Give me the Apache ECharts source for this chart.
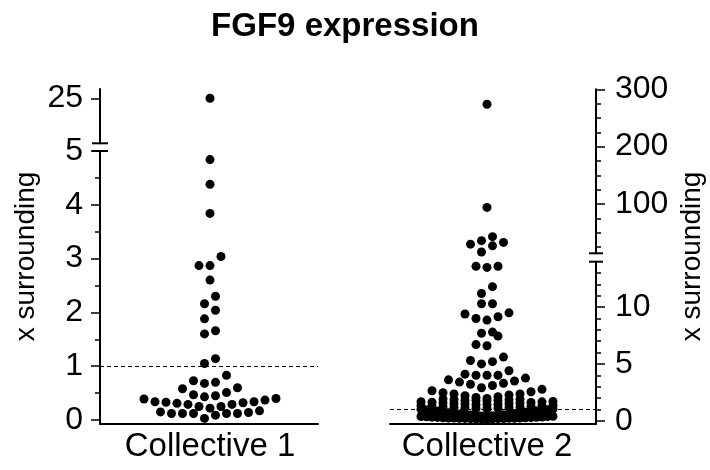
<!DOCTYPE html>
<html><head><meta charset="utf-8">
<script src="https://cdn.jsdelivr.net/npm/echarts@6/dist/echarts.min.js"></script>
<style>html,body{margin:0;padding:0;background:#fff}#c{width:710px;height:470px}</style>
</head><body><div id="c"></div>
<script>
// ---------- data ----------
const chartTitle = 'FGF9 expression';
const categories = ['Collective 1', 'Collective 2'];
const axisTitle = 'x surrounding';
const referenceLevel = 1;

const collective1 = [
  25, 4.84, 4.38, 3.84, 3.04, 2.87, 2.87, 2.60, 2.30, 2.16, 2.04, 1.88, 1.66, 1.60,
  1.14, 1.05, 0.83, 0.73, 0.70, 0.68, 0.60, 0.58, 0.51, 0.47, 0.45, 0.43,
  0.40, 0.39, 0.37, 0.34, 0.34, 0.33, 0.32, 0.31, 0.29, 0.29, 0.25, 0.25, 0.22,
  0.17, 0.15, 0.14, 0.12, 0.12, 0.12, 0.12, 0.12, 0.09, 0.03
];
const collective2 = [
  274, 94, 43, 36, 33, 30, 27, 16.2,
  13.6, 13.5, 13.6, 11.8, 11.2, 10.3, 10.3,
  9.5, 9.15, 8.86, 9.0, 9.4,
  7.8, 7.45, 7.7, 6.6, 6.7,
  5.6, 5.2, 5.0, 5.3,
  4.4, 4.0, 4.0, 4.0, 4.1,
  3.75, 3.5, 3.3, 3.1, 2.9, 3.2, 3.4, 3.6,
  2.76, 2.64, 2.55, 2.46, 2.35, 2.35, 2.27, 2.20, 2.12, 2.05, 1.96,
  1.91, 1.89, 1.86, 1.84, 1.81, 1.78, 1.77, 1.73, 1.70, 1.68, 1.66, 1.62, 1.60, 1.57, 1.55, 1.52,
  1.49, 1.47, 1.44, 1.41, 1.40, 1.36, 1.33, 1.31, 1.29, 1.25, 1.23, 1.21, 1.18, 1.15, 1.12, 1.10, 1.07, 1.05,
  1.02, 1.00, 0.97, 0.94, 0.91, 0.88, 0.86, 0.83, 0.79, 0.76, 0.74, 0.71, 0.68, 0.66, 0.63, 0.60, 0.58,
  0.56, 0.53, 0.51, 0.49, 0.47, 0.44, 0.42, 0.41, 0.39, 0.37, 0.36, 0.34, 0.33, 0.31, 0.30, 0.29,
  0.27, 0.26, 0.25, 0.24, 0.24, 0.23, 0.22, 0.21, 0.21, 0.20, 0.19, 0.18, 0.18, 0.17, 0.16, 0.16, 0.15
];

// axis ticks / labels
const leftLowerTicks = [0, 1, 2, 3, 4, 5];
const leftLowerMinor = [0.5, 1.5, 2.5, 3.5, 4.5];
const leftUpperTicks = [25];
const rightLowerTicks = [0, 5, 10];
const rightLowerMinor = [1, 2, 3, 4, 6, 7, 8, 9, 11, 12, 13];
const rightUpperTicks = [100, 200, 300];
const rightUpperMinor = [25, 50, 75, 125, 150, 175, 225, 250, 275];
const leftBreak = 5;
const rightBreak = 14;

// ---------- chart ----------
const FONT = 'Liberation Sans';
const lab = { color: '#000', fontFamily: FONT, fontSize: 32 };
const catLab = { color: '#000', fontFamily: FONT, fontSize: 33 };
const chart = echarts.init(document.getElementById('c'), null, { renderer: 'canvas' });

function majorY(gridIndex, position, min, max, ticks, margin) {
  return {
    type: 'value', gridIndex, position, min, max,
    axisLine: { show: true, onZero: false, lineStyle: { color: '#000', width: 2 } },
    axisTick: { show: true, inside: false, length: 9, customValues: ticks, lineStyle: { color: '#000', width: 1.5 } },
    axisLabel: Object.assign({ show: true, customValues: ticks, margin }, lab),
    splitLine: { show: false }
  };
}
function minorY(gridIndex, position, min, max, ticks) {
  return {
    type: 'value', gridIndex, position, min, max,
    axisLine: { show: false, onZero: false },
    axisTick: { show: true, inside: false, length: 5, customValues: ticks, lineStyle: { color: '#000', width: 1.5 } },
    axisLabel: { show: false },
    splitLine: { show: false }
  };
}
function xAx(gridIndex, min, max, name, show) {
  return {
    type: 'value', gridIndex, min, max, position: 'bottom',
    axisLine: { show: show, onZero: false, lineStyle: { color: '#000', width: 2 } },
    axisTick: { show: false },
    axisLabel: show ? Object.assign({ show: true, customValues: [0], formatter: () => name, margin: 6 }, catLab) : { show: false },
    splitLine: { show: false }
  };
}

const grids = [
  { left: 100, top: 151, width: 218, height: 273 },     // left lower
  { left: 100, top: 89, width: 218, height: 54.3 },     // left upper
  { left: 390, top: 261.7, width: 206, height: 162.3 }, // right lower
  { left: 390, top: 89.3, width: 206, height: 164 }     // right upper
].map(g => Object.assign({ containLabel: false, outerBoundsMode: 'none' }, g));

const yAxes = [
  majorY(0, 'left', -0.0743, 5, leftLowerTicks, 17),
  minorY(0, 'left', -0.0743, 5, leftLowerMinor),
  majorY(1, 'left', 5, 29.13, leftUpperTicks, 17),
  majorY(2, 'right', -0.29, 14, rightLowerTicks, 19),
  minorY(2, 'right', -0.29, 14, rightLowerMinor),
  majorY(3, 'right', 14, 300, rightUpperTicks, 19),
  minorY(3, 'right', 14, 300, rightUpperMinor)
];
const xAxes = [
  xAx(0, -110, 108, categories[0], true),
  xAx(1, -110, 108, '', false),
  xAx(2, -97, 109, categories[1], true),
  xAx(3, -97, 109, '', false)
];

const refLine = {
  silent: true, symbol: ['none', 'none'], label: { show: false },
  lineStyle: { color: '#000', width: 1, type: [4, 3], opacity: 1 },
  data: [{ yAxis: referenceLevel }]
};
const dot = {
  type: 'scatter', symbol: 'circle', symbolSize: 9, clip: false,
  itemStyle: { color: '#000', opacity: 1 }, emphasis: { disabled: true }
};

function seriesList(d) {
  return [
    Object.assign({}, dot, { xAxisIndex: 0, yAxisIndex: 0, data: d[0], markLine: refLine }),
    Object.assign({}, dot, { xAxisIndex: 1, yAxisIndex: 2, data: d[1] }),
    Object.assign({}, dot, { xAxisIndex: 2, yAxisIndex: 3, data: d[2], markLine: refLine }),
    Object.assign({}, dot, { xAxisIndex: 3, yAxisIndex: 5, data: d[3] })
  ];
}

chart.setOption({
  animation: false,
  backgroundColor: '#fff',
  grid: grids, xAxis: xAxes, yAxis: yAxes,
  series: seriesList([[], [], [], []])
});

// Prism-style row layout: sorted values grouped in rows of pixel height H,
// spread centre-out alternately left/right with spacing s.
function centeredSlots(n, s) {
  const out = [];
  if (n % 2 === 1) {
    out.push(0);
    for (let i = 1; out.length < n; i++) { out.push(-i * s); if (out.length < n) out.push(i * s); }
  } else {
    for (let i = 0; out.length < n; i++) { out.push(-(i + 0.5) * s); out.push((i + 0.5) * s); }
  }
  return out;
}
function rowSwarm(vals, pyFn, H, s, cap) {
  const order = vals.map((v, i) => i).sort((a, b) => vals[a] - vals[b]);
  const off = new Array(vals.length);
  let k = 0;
  while (k < order.length) {
    const y0 = pyFn(vals[order[k]]);
    let e = k;
    while (e < order.length && y0 - pyFn(vals[order[e]]) < H) e++;
    const bin = order.slice(k, e);
    const n = bin.length;
    let slots;
    if (n <= cap) slots = centeredSlots(n, s);
    else if (n > 3 * cap) slots = centeredSlots(2 * cap - 1, s / 2);
    else slots = centeredSlots(cap, s);
    bin.forEach((idx, j) => { off[idx] = slots[j % slots.length]; });
    k = e;
  }
  return off;
}

const py1 = v => v <= leftBreak ? chart.convertToPixel({ yAxisIndex: 0 }, v) : chart.convertToPixel({ yAxisIndex: 2 }, v);
const py2 = v => v <= rightBreak ? chart.convertToPixel({ yAxisIndex: 3 }, v) : chart.convertToPixel({ yAxisIndex: 5 }, v);

const off1 = rowSwarm(collective1, py1, 10, 11, 25);
const off2 = rowSwarm(collective2, py2, 10, 11, 13);

const cx1 = chart.convertToPixel({ xAxisIndex: 0 }, 0);
const cx2 = chart.convertToPixel({ xAxisIndex: 2 }, 0);
const d = [[], [], [], []];
collective1.forEach((v, i) => {
  const x = chart.convertFromPixel({ xAxisIndex: 0 }, cx1 + off1[i]);
  (v <= leftBreak ? d[0] : d[1]).push([x, v]);
});
collective2.forEach((v, i) => {
  const x = chart.convertFromPixel({ xAxisIndex: 2 }, cx2 + off2[i]);
  (v <= rightBreak ? d[2] : d[3]).push([x, v]);
});

// break marks & texts
const lx = chart.convertToPixel({ xAxisIndex: 0 }, -110);
const rx = chart.convertToPixel({ xAxisIndex: 2 }, 109);
const lb1 = chart.convertToPixel({ yAxisIndex: 2 }, leftBreak);
const lb2 = chart.convertToPixel({ yAxisIndex: 0 }, leftBreak);
const rb1 = chart.convertToPixel({ yAxisIndex: 5 }, rightBreak);
const rb2 = chart.convertToPixel({ yAxisIndex: 3 }, rightBreak);
const brk = (x1, x2, y) => ({ type: 'line', z: 10, shape: { x1, y1: y, x2, y2: y }, style: { stroke: '#000', lineWidth: 2 } });

const topY = chart.convertToPixel({ yAxisIndex: 2 }, 29.13);
const botY = chart.convertToPixel({ yAxisIndex: 0 }, -0.0743);
const midY = (topY + botY) / 2;
const nameFont = '28px "Liberation Sans"';

chart.setOption({
  series: seriesList(d),
  graphic: [
    brk(lx - 8, lx + 8, lb1), brk(lx - 8, lx + 8, lb2),
    brk(rx - 7, rx + 7, rb1), brk(rx - 7, rx + 7, rb2),
    { type: 'text', x: 345, y: 27, style: { text: chartTitle, fill: '#000', font: 'bold 33px "Liberation Sans"', align: 'center', verticalAlign: 'middle' } },
    { type: 'text', x: 26, y: midY, rotation: Math.PI / 2, style: { text: axisTitle, fill: '#000', font: nameFont, align: 'center', verticalAlign: 'middle' } },
    { type: 'text', x: 692, y: midY, rotation: Math.PI / 2, style: { text: axisTitle, fill: '#000', font: nameFont, align: 'center', verticalAlign: 'middle' } }
  ]
});
</script>
</body></html>
